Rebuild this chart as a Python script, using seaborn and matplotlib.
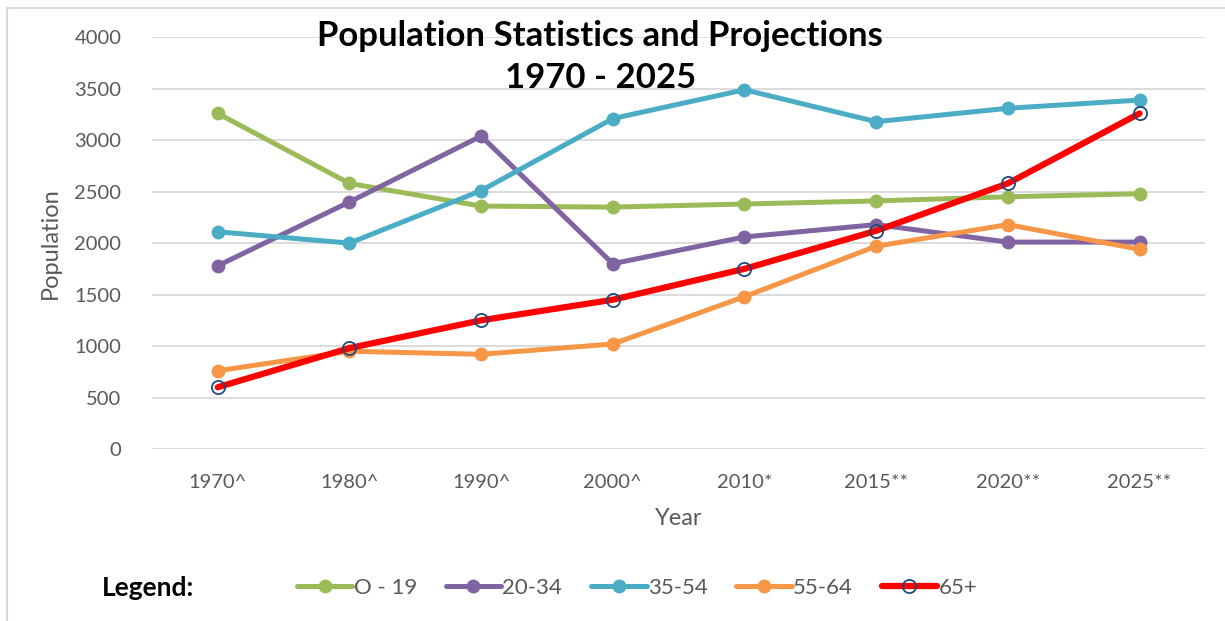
import matplotlib
matplotlib.use('Agg')
import matplotlib.pyplot as plt
import seaborn as sns
import pandas as pd
from matplotlib.lines import Line2D

# datos
years = ['1970^', '1980^', '1990^', '2000^', '2010*', '2015**', '2020**', '2025**']
age_0_19 = [3260, 2580, 2360, 2350, 2380, 2410, 2450, 2480]
age_20_34 = [1780, 2400, 3040, 1800, 2060, 2180, 2010, 2010]
age_35_54 = [2110, 2000, 2510, 3210, 3490, 3180, 3310, 3390]
age_55_64 = [760, 950, 920, 1020, 1480, 1970, 2180, 1940]
age_65 = [600, 980, 1250, 1450, 1750, 2120, 2580, 3260]

groups = ['O - 19', '20-34', '35-54', '55-64', '65+']
colores = ['#9BBB59', '#8064A2', '#4BACC6', '#F79646', '#FF0000']

sns.set_style('white')
plt.rcParams['font.family'] = ['Lato', 'DejaVu Sans']

df = pd.DataFrame({'Year': years * 5,
                   'Population': age_0_19 + age_20_34 + age_35_54 + age_55_64 + age_65,
                   'grupo': [g for g in groups for _ in years]})

fig = plt.figure(figsize=(12.25, 6.21), dpi=100)
ax = fig.add_axes([0.124, 0.277, 0.86, 0.663])

handles = []
for g, c in zip(groups, colores):
    d = df[df['grupo'] == g]
    if g == '65+':
        sns.lineplot(data=d, x='Year', y='Population', color=c, sort=False, ax=ax,
                     linewidth=4.5, marker='o', markersize=9.5, markerfacecolor='none',
                     markeredgecolor='#1F497D', markeredgewidth=1.3, zorder=5)
        handles.append(Line2D([], [], color=c, linewidth=4.5, marker='o', markersize=9.5,
                              markerfacecolor='none', markeredgecolor='#1F497D',
                              markeredgewidth=1.3))
    else:
        sns.lineplot(data=d, x='Year', y='Population', color=c, sort=False, ax=ax,
                     linewidth=3.6, marker='o', markersize=10, markeredgewidth=0, zorder=3)
        handles.append(Line2D([], [], color=c, linewidth=3.6, marker='o', markersize=10,
                              markeredgewidth=0))

ax.set_xlim(-0.5, len(years) - 0.5)
ax.set_ylim(0, 4000)
ax.set_yticks(range(0, 4001, 500))
ax.grid(axis='y', color='#D9D9D9', linewidth=1.3)
ax.set_axisbelow(True)
for s in ax.spines.values():
    s.set_visible(False)
ax.tick_params(axis='both', length=0, labelsize=14.5, labelcolor='#595959', pad=18)
ax.tick_params(axis='y', pad=22)
ax.set_xlabel('Year', fontsize=17, color='#595959', labelpad=12)
ax.set_ylabel('Population', fontsize=17, color='#595959', labelpad=10)

fig.text(0.49, 0.908, 'Population Statistics and Projections\n1970 - 2025',
         ha='center', va='center', fontsize=25, fontweight='bold',
         linespacing=1.4, color='black')

fig.text(0.083, 0.053, 'Legend:', ha='left', va='center', fontsize=19,
         fontweight='bold', color='black')
leg = fig.legend(handles, groups, loc='center left', bbox_to_anchor=(0.226, 0.053),
                 ncol=5, frameon=False, fontsize=16, handlelength=2.5,
                 handletextpad=0.05, columnspacing=1.3, labelcolor='#595959')

# marco del grafico
fig.add_artist(Line2D([0.006, 1.0], [0.987, 0.987], color='#D9D9D9', linewidth=1.5,
                      transform=fig.transFigure))
fig.add_artist(Line2D([0.006, 0.006], [0.0, 0.987], color='#D9D9D9', linewidth=1.5,
                      transform=fig.transFigure))

fig.savefig('out.png', dpi=100)
